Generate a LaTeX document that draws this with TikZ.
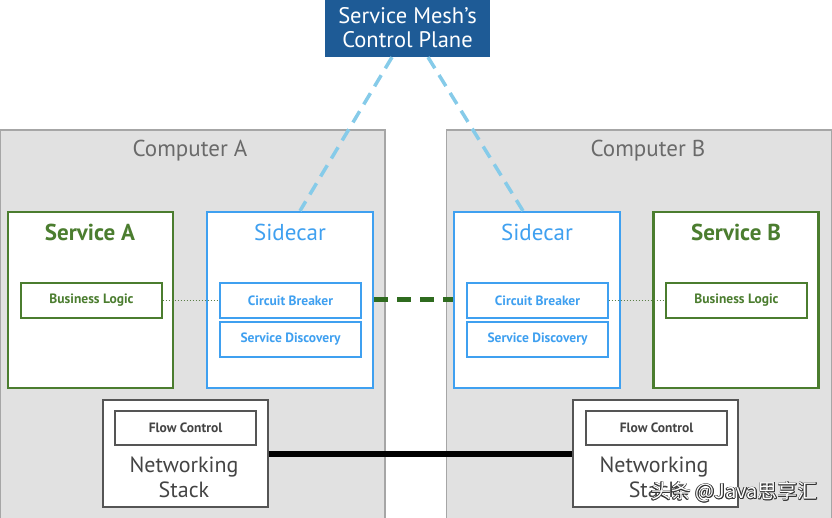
\documentclass[tikz,border=0pt]{standalone}
\usepackage{fontspec}
\setmainfont{PT Sans}
\newfontfamily\cjkfont{Noto Sans CJK SC}
\usetikzlibrary{calc}
\definecolor{compfill}{HTML}{E1E1E1}
\definecolor{compborder}{HTML}{A6A6A6}
\definecolor{compText}{HTML}{6A6A6A}
\definecolor{svcGreen}{HTML}{4B7D2F}
\definecolor{scBlue}{HTML}{3FA0F0}
\definecolor{ctrlBlue}{HTML}{1E5B96}
\definecolor{linkBlue}{HTML}{86CBE9}
\definecolor{linkGreen}{HTML}{2F6B1F}
\definecolor{netBorder}{HTML}{555555}
\definecolor{netText}{HTML}{444444}
\tikzset{
  comp/.style={draw=compborder, fill=compfill, line width=1.2pt, minimum width=385pt, minimum height=394pt, inner sep=0pt},
  svcbox/.style={draw=svcGreen, fill=white, line width=2.2pt, minimum width=165pt, minimum height=176pt, inner sep=0pt},
  scbox/.style={draw=scBlue, fill=white, line width=2.2pt, minimum width=166pt, minimum height=176pt, inner sep=0pt},
  svcinner/.style={draw=svcGreen, fill=white, line width=1.2pt, minimum width=141pt, minimum height=35pt, inner sep=0pt, text=svcGreen, font=\fontsize{13.5}{15}\selectfont\bfseries},
  scinner/.style={draw=scBlue, fill=white, line width=1.2pt, minimum width=141pt, minimum height=35pt, inner sep=0pt, text=scBlue, font=\fontsize{13.5}{15}\selectfont\bfseries},
  netbox/.style={draw=netBorder, fill=white, line width=1.5pt, minimum width=165pt, minimum height=107pt, inner sep=0pt},
  fcbox/.style={draw=netBorder, fill=white, line width=1.3pt, minimum width=141pt, minimum height=34pt, inner sep=0pt, text=netText, font=\fontsize{13.5}{15}\selectfont\bfseries},
  bigtitle/.style={font=\fontsize{23}{26}\selectfont, inner sep=0pt},
  ctrlbox/.style={fill=ctrlBlue, minimum width=165pt, minimum height=58pt, inner sep=0pt, text=white, align=center, font=\fontsize{22.5}{24}\selectfont},
  ctrllink/.style={draw=linkBlue, line width=3.5pt, dash pattern=on 13pt off 8pt},
  sclink/.style={draw=linkGreen, line width=5pt, dash pattern=on 14pt off 9pt},
  biz/.style={draw=svcGreen!70!gray, line width=1pt, dash pattern=on 1.5pt off 1.5pt},
  netlink/.style={draw=black, line width=6pt},
  wmark/.style={font=\cjkfont\fontsize{20}{22}\selectfont, inner sep=0pt, anchor=east},
}
\begin{document}
\begin{tikzpicture}[x=1pt,y=-1pt]
\useasboundingbox (0,0) rectangle (832,518);
% computers
\node[comp] (compA) at (192.5,327) {};
\node[comp] (compB) at (639,327) {};
\node[bigtitle, text=compText] (compAt) at (190,151) {Computer A};
\node[bigtitle, text=compText] (compBt) at (648,151) {Computer B};
% control plane
\node[ctrlbox] (ctrl) at (407.5,28) {Service Mesh’s\\Control Plane};
% services & sidecars
\node[svcbox] (svcA) at (90.5,300) {};
\node[scbox] (scA) at (290,300) {};
\node[scbox] (scB) at (537,300) {};
\node[svcbox] (svcB) at (736,300) {};
\node[bigtitle, text=svcGreen, font=\fontsize{23}{26}\selectfont\bfseries] (svcAt) at (90,232) {Service A};
\node[bigtitle, text=scBlue] (scAt) at (290,232) {Sidecar};
\node[bigtitle, text=scBlue] (scBt) at (537,232) {Sidecar};
\node[bigtitle, text=svcGreen, font=\fontsize{23}{26}\selectfont\bfseries] (svcBt) at (736,232) {Service B};
\node[svcinner] (blA) at (91.5,300.5) {Business Logic};
\node[scinner] (cbA) at (290.5,300.5) {Circuit Breaker};
\node[scinner] (sdA) at (290.5,339.5) {Service Discovery};
\node[scinner] (cbB) at (537.5,300.5) {Circuit Breaker};
\node[scinner] (sdB) at (537.5,339.5) {Service Discovery};
\node[svcinner] (blB) at (736.5,300.5) {Business Logic};
% networking stacks
\node[netbox] (netA) at (185.5,453.5) {};
\node[netbox] (netB) at (655.5,453.5) {};
\node[fcbox] (fcA) at (185.5,428) {Flow Control};
\node[fcbox] (fcB) at (656.5,428) {Flow Control};
\node[bigtitle, text=netText, align=center, font=\fontsize{22}{25}\selectfont] (nsA) at (184,477) {Networking\\Stack};
\node[bigtitle, text=netText, align=center, font=\fontsize{22}{25}\selectfont] (nsB) at (654,477) {Networking\\Stack};
% connectors
\draw[biz] (blA.east) -- (cbA.west);
\draw[biz] (cbB.east) -- (blB.west);
\draw[sclink] (scA.east) -- (scB.west);
\draw[netlink] (netA.east) -- (netB.west);
\draw[ctrllink] ($(ctrl.south)+(-15.5,0)$) -- ($(scA.north)+(10,0)$);
\draw[ctrllink] ($(ctrl.south)+(20.5,0)$) -- ($(scB.north)+(-14,0)$);
% watermark (white text with dark halo)
\foreach \dx/\dy in {-0.7/0,0.7/0,0/-0.7,0/0.7,-0.5/-0.5,0.5/0.5,-0.5/0.5,0.5/-0.5}{
  \node[wmark, text=black!80] at (818+\dx,492+\dy) {头条 @Java思享汇};
}
\node[wmark, text=white] (wm) at (818,492) {头条 @Java思享汇};
\end{tikzpicture}
\end{document}
